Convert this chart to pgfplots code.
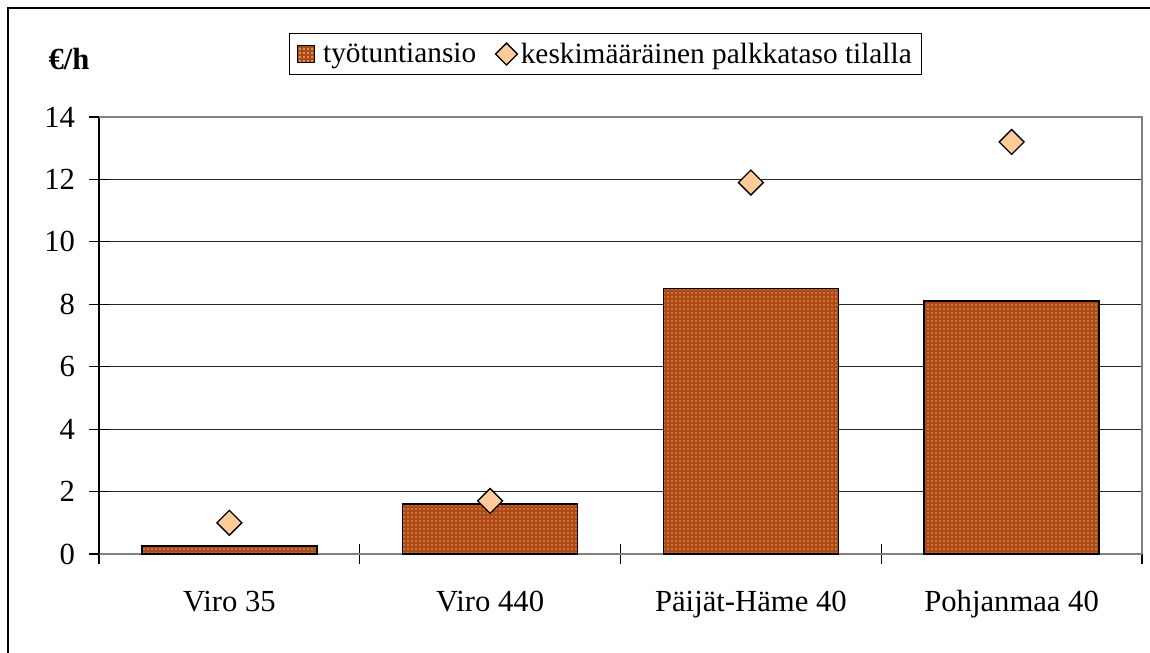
\documentclass[border=0pt]{standalone}
\usepackage{pgfplots}
\pgfplotsset{compat=1.18}
\usepackage{fontspec}
\setmainfont{Liberation Serif}
\usetikzlibrary{patterns}
\definecolor{barbrown}{RGB}{176,74,20}
\definecolor{diafill}{RGB}{255,204,153}
\begin{document}
\begin{tikzpicture}
\begin{axis}[
  at={(0pt,0pt)}, anchor=south west,
  scale only axis,
  width=782.25pt, height=327.75pt,
  xmin=-0.5, xmax=3.5, ymin=0, ymax=14,
  ytick={0,2,...,14},
  xtick={-0.5,0.5,1.5,2.5,3.5},
  xticklabels={},
  extra x ticks={0,1,2,3},
  extra x tick labels={Viro 35,Viro 440,Päijät-Häme 40,Pohjanmaa 40},
  extra x tick style={major tick length=0pt, grid=none,
     xticklabel style={yshift=-24pt}},
  xtick pos=bottom, ytick pos=left,
  tick align=center,
  major tick length=15pt,
  tick style={black, line width=0.9pt},
  ymajorgrids,
  grid style={black!85, line width=0.9pt},
  axis line style={gray, line width=0.9pt},
  axis x line*=bottom,
  separate axis lines,
  y axis line style={black},
  every y tick label/.style={font=\fontsize{23}{27}\selectfont, xshift=-7pt},
  /pgf/number format/assume math mode=true,
  ticklabel style={font=\fontsize{23}{27}\selectfont},
  legend style={at={(0.4856,1.144)}, anchor=center, draw=black, line width=0.75pt,
     font=\fontsize{22}{26}\selectfont, inner xsep=5pt, inner ysep=5pt,
     /tikz/every even column/.append style={column sep=12pt}},
  legend columns=2,
  clip=false,
]
\addplot[ybar, bar width=131.25pt, fill=barbrown, draw=black, line width=1.1pt,
   postaction={pattern=dots, pattern color=white!92!orange},
   legend image code/.code={\draw[fill=barbrown, draw=black, line width=0.8pt, postaction={pattern=dots, pattern color=white!92!orange}] (0pt,-6.4pt) rectangle (12.75pt,6.4pt); \path (17pt,0pt);}]
  coordinates {(0,0.25) (1,1.6) (2,8.5) (3,8.1)};
\addlegendentry{työtuntiansio}
\addplot[only marks, mark=square*, mark size=6.6pt,
   mark options={rotate=45, fill=diafill, draw=black, line width=1pt},
   legend image code/.code={\draw[fill=diafill, draw=black, line width=1pt] (0pt,0pt) -- (8.2pt,8.2pt) -- (16.4pt,0pt) -- (8.2pt,-8.2pt) -- cycle;}]
  coordinates {(0,1.0) (1,1.7) (2,11.9) (3,13.2)};
\addlegendentry{keskimääräinen palkkataso tilalla}
\draw[gray, line width=0.9pt] (rel axis cs:1,0) -- (rel axis cs:1,1) -- (rel axis cs:0,1);
\end{axis}
\node[font=\fontsize{23}{27}\selectfont\bfseries] at (-22.5pt,371.5pt) {€/h};
\draw[black, line width=1pt] (-68.25pt,-74.25pt) -- (-68.25pt,409.5pt) -- (788.25pt,409.5pt);
\pgfresetboundingbox
\useasboundingbox (-74.25pt,-74.25pt) rectangle (788.25pt,415.5pt);
\end{tikzpicture}
\end{document}
